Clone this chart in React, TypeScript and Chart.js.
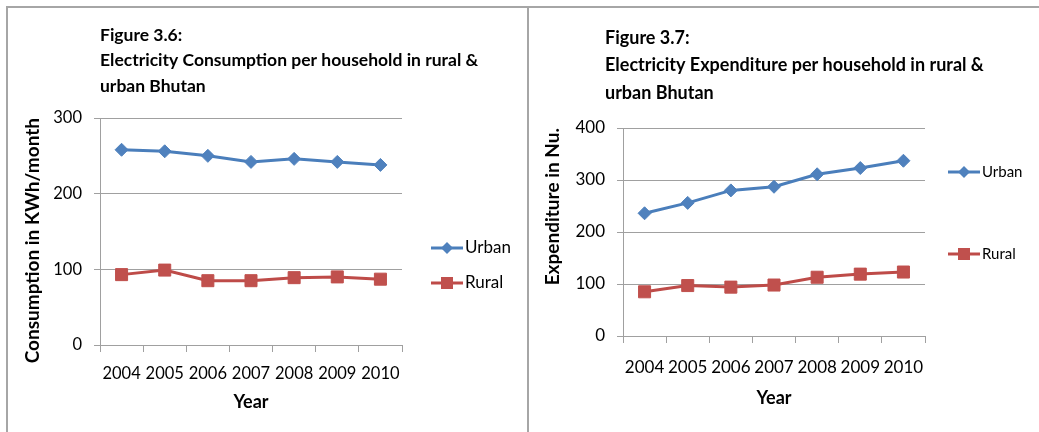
import React, { useEffect, useRef } from "react";
import { Chart, registerables } from "chart.js";

Chart.register(...registerables);

// ---------- data ----------
const years = ["2004", "2005", "2006", "2007", "2008", "2009", "2010"];
const seriesNames = ["Urban", "Rural"];
const consumptionUrban = [258, 256, 250, 242, 246, 242, 238];
const consumptionRural = [93, 99, 85, 85, 89, 90, 87];
const expenditureUrban = [236, 256, 280, 287, 311, 323, 337];
const expenditureRural = [85, 97, 94, 98, 113, 119, 123];
const consumptionTicks = [0, 100, 200, 300];
const expenditureTicks = [0, 100, 200, 300, 400];
const fig36Title = [
  "Figure 3.6:",
  "Electricity Consumption per household in rural &",
  "urban Bhutan",
];
const fig37Title = [
  "Figure 3.7:",
  "Electricity Expenditure per household in rural &",
  "urban Bhutan",
];
const consumptionAxisTitle = "Consumption in KWh/month";
const expenditureAxisTitle = "Expenditure in Nu.";
const xAxisTitle = "Year";

// ---------- styles ----------
const FONT = "Lato, 'Open Sans', sans-serif";
const URBAN_LINE = "#4A7EBB";
const URBAN_FILL = "#4F81BD";
const RURAL_LINE = "#BE4B48";
const RURAL_FILL = "#C0504D";
const GRID = "#A0A0A0";

type Layout = {
  width: number;
  height: number;
  padTop: number;
  padRight: number;
  yWidth: number;
  xHeight: number;
  tickSize: number;
  yTickPad: number;
  xTickPad: number;
  yTitleSize: number;
  yTitlePad: number;
  xTitleSize: number;
  xTitlePad: number;
  titleSize: number;
  titleX: number;
  titleY: number;
  titleStep: number;
  legendSize: number;
  legendX: number;
  legendY: number[];
};

const figurePlugin = {
  id: "figureExtras",
  afterDraw(chart: any, _args: any, opts: any) {
    const ctx = chart.ctx as CanvasRenderingContext2D;
    ctx.save();
    // figure title
    ctx.fillStyle = "#000";
    ctx.textAlign = "left";
    ctx.textBaseline = "middle";
    ctx.font = `bold ${opts.titleSize}px ${FONT}`;
    (opts.title as string[]).forEach((line, i) => {
      ctx.fillText(line, opts.titleX, opts.titleY + i * opts.titleStep);
    });
    // legend
    chart.data.datasets.forEach((ds: any, i: number) => {
      const y = opts.legendY[i];
      const x0 = opts.legendX;
      const w = 32;
      ctx.strokeStyle = ds.borderColor;
      ctx.lineWidth = 3;
      ctx.beginPath();
      ctx.moveTo(x0, y);
      ctx.lineTo(x0 + w, y);
      ctx.stroke();
      const cx = x0 + w / 2;
      ctx.fillStyle = ds.pointBackgroundColor;
      ctx.beginPath();
      if (ds.pointStyle === "rectRot") {
        const r = 6;
        ctx.moveTo(cx - r, y);
        ctx.lineTo(cx, y - r);
        ctx.lineTo(cx + r, y);
        ctx.lineTo(cx, y + r);
        ctx.closePath();
      } else {
        const s = 6;
        ctx.rect(cx - s, y - s, 2 * s, 2 * s);
      }
      ctx.fill();
      ctx.fillStyle = "#000";
      ctx.font = `${opts.legendSize}px ${FONT}`;
      ctx.textAlign = "left";
      ctx.textBaseline = "middle";
      ctx.fillText(ds.label, x0 + w + 2, y);
    });
    ctx.restore();
  },
};

function buildConfig(
  urban: number[],
  rural: number[],
  ticks: number[],
  yTitle: string,
  title: string[],
  L: Layout
): any {
  return {
    type: "line",
    data: {
      labels: years,
      datasets: [
        {
          label: seriesNames[0],
          data: urban,
          borderColor: URBAN_LINE,
          backgroundColor: URBAN_FILL,
          pointBackgroundColor: URBAN_FILL,
          pointBorderColor: URBAN_FILL,
          pointStyle: "rectRot",
          pointRadius: 6.5,
          pointBorderWidth: 1,
          borderWidth: 3,
          tension: 0,
        },
        {
          label: seriesNames[1],
          data: rural,
          borderColor: RURAL_LINE,
          backgroundColor: RURAL_FILL,
          pointBackgroundColor: RURAL_FILL,
          pointBorderColor: RURAL_FILL,
          pointStyle: "rect",
          pointRadius: 8.5,
          pointBorderWidth: 1,
          borderWidth: 3,
          tension: 0,
        },
      ],
    },
    options: {
      responsive: false,
      animation: false,
      devicePixelRatio: 1,
      layout: {
        padding: { top: L.padTop, right: L.padRight, left: 0, bottom: 0 },
      },
      plugins: {
        legend: { display: false },
        title: { display: false },
        tooltip: { enabled: false },
        figureExtras: {
          title,
          titleSize: L.titleSize,
          titleX: L.titleX,
          titleY: L.titleY,
          titleStep: L.titleStep,
          legendSize: L.legendSize,
          legendX: L.legendX,
          legendY: L.legendY,
        },
      },
      scales: {
        x: {
          type: "category",
          offset: true,
          grid: {
            offset: true,
            drawOnChartArea: false,
            drawTicks: true,
            tickLength: 7,
            color: GRID,
          },
          border: { color: GRID, width: 1 },
          ticks: {
            color: "#000",
            font: { family: FONT, size: L.tickSize },
            padding: L.xTickPad,
            maxRotation: 0,
            autoSkip: false,
          },
          title: {
            display: true,
            text: xAxisTitle,
            color: "#000",
            font: { family: FONT, size: L.xTitleSize, weight: "bold" },
            padding: { top: 0, bottom: L.xTitlePad },
          },
          afterFit: (s: any) => {
            s.height = L.xHeight;
          },
        },
        y: {
          min: ticks[0],
          max: ticks[ticks.length - 1],
          grid: { color: GRID, tickLength: 6, lineWidth: 1 },
          border: { color: GRID, width: 1 },
          ticks: {
            color: "#000",
            font: { family: FONT, size: L.tickSize },
            padding: L.yTickPad,
          },
          afterBuildTicks: (s: any) => {
            s.ticks = ticks.map((v) => ({ value: v }));
          },
          title: {
            display: true,
            text: yTitle,
            align: "end",
            color: "#000",
            font: { family: FONT, size: L.yTitleSize, weight: "bold" },
            padding: { top: L.yTitlePad, bottom: 0 },
          },
          afterFit: (s: any) => {
            s.width = L.yWidth;
          },
        },
      },
    },
    plugins: [figurePlugin],
  };
}

const leftLayout: Layout = {
  width: 519,
  height: 424,
  padTop: 110,
  padRight: 125,
  yWidth: 92,
  xHeight: 87,
  tickSize: 16.5,
  yTickPad: 12,
  xTickPad: 12,
  yTitleSize: 19,
  yTitlePad: 13.5,
  xTitleSize: 18,
  xTitlePad: 19,
  titleSize: 17.5,
  titleX: 92,
  titleY: 27,
  titleStep: 25.5,
  legendSize: 17,
  legendX: 423,
  legendY: [240, 275],
};

const rightLayout: Layout = {
  width: 510,
  height: 424,
  padTop: 120,
  padRight: 114,
  yWidth: 94,
  xHeight: 96,
  tickSize: 17,
  yTickPad: 12,
  xTickPad: 14,
  yTitleSize: 19,
  yTitlePad: 12.5,
  xTitleSize: 18,
  xTitlePad: 23,
  titleSize: 18,
  titleX: 76,
  titleY: 30,
  titleStep: 27.5,
  legendSize: 15,
  legendX: 419,
  legendY: [164, 246],
};

function LineChart(props: {
  urban: number[];
  rural: number[];
  ticks: number[];
  yTitle: string;
  title: string[];
  layout: Layout;
  left: number;
}) {
  const ref = useRef<HTMLCanvasElement | null>(null);
  useEffect(() => {
    if (!ref.current) return;
    const chart = new Chart(
      ref.current,
      buildConfig(props.urban, props.rural, props.ticks, props.yTitle, props.title, props.layout)
    );
    return () => chart.destroy();
  }, []);
  return (
    <canvas
      ref={ref}
      width={props.layout.width}
      height={props.layout.height}
      style={{
        position: "absolute",
        left: props.left,
        top: 8,
        width: props.layout.width,
        height: props.layout.height,
      }}
    />
  );
}

export default function App() {
  const line = "#A6A6A6";
  return (
    <div
      style={{
        position: "fixed",
        left: 0,
        top: 0,
        width: 1039,
        height: 432,
        background: "#fff",
        overflow: "hidden",
      }}
    >
      <div style={{ position: "absolute", left: 6, top: 6, width: 1033, height: 2, background: line }} />
      <div style={{ position: "absolute", left: 6, top: 6, width: 2, height: 426, background: line }} />
      <div style={{ position: "absolute", left: 527, top: 6, width: 2, height: 426, background: line }} />
      <LineChart
        urban={consumptionUrban}
        rural={consumptionRural}
        ticks={consumptionTicks}
        yTitle={consumptionAxisTitle}
        title={fig36Title}
        layout={leftLayout}
        left={8}
      />
      <LineChart
        urban={expenditureUrban}
        rural={expenditureRural}
        ticks={expenditureTicks}
        yTitle={expenditureAxisTitle}
        title={fig37Title}
        layout={rightLayout}
        left={529}
      />
    </div>
  );
}
